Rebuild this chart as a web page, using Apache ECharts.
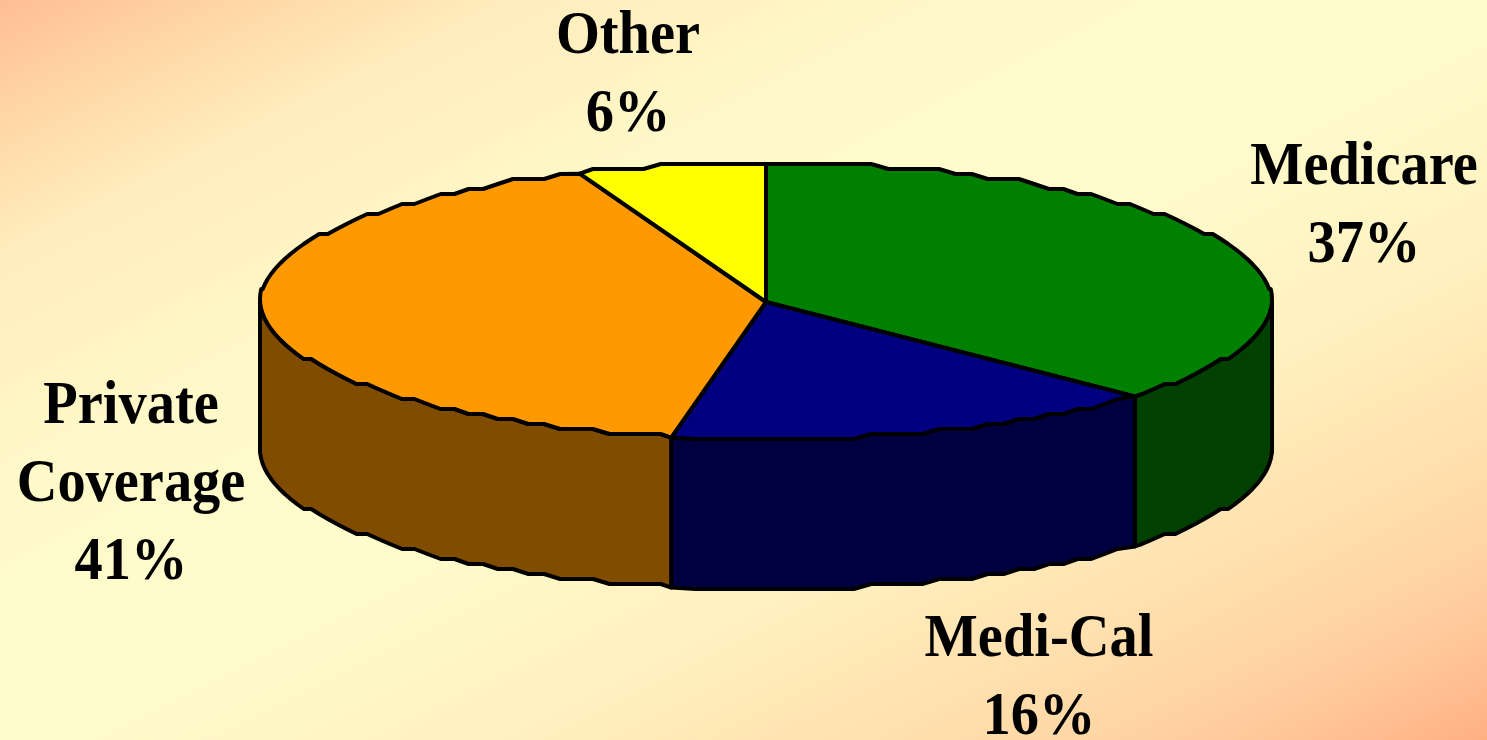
<!DOCTYPE html>
<html style="height: 100%; width: 100%;">
<head>
    <meta charset="utf-8">
    <title>Coverage share</title>
    <script src="https://cdn.jsdelivr.net/npm/echarts@6/dist/echarts.min.js"></script>
    <style>
        body, html { margin: 0; padding: 0; width: 100%; height: 100%; overflow: hidden; }
        #main { width: 1487px; height: 740px; }
    </style>
</head>
<body>
<div id="main"></div>
<script type="text/javascript">
    // chart data
    var names = ['Medicare', 'Medi-Cal', 'Private\nCoverage', 'Other'];
    var shares = [37, 16, 41, 6];

    // colours of the top face and of the rim
    var topColors = ['#008000', '#000080', '#FF9900', '#FFFF00'];
    var sideColors = ['#004000', '#000040', '#804D00', '#808000'];

    // label block centres, same order as names
    var labelX = [1364, 1039, 131, 628];
    var labelY = [207, 679, 485, 76];

    // the tilted disc
    var cx = 766, cy = 302, rx = 506, ry = 138, depth = 150;
    var stepY = 5; // reference outline is stepped, snap heights to this
    var stepDeg = 2;

    var total = shares.reduce(function (a, b) { return a + b; }, 0);

    // angle is clockwise from the top of the disc, in degrees
    function rimPoint(deg, dy, snapped) {
        var a = deg * Math.PI / 180;
        var y = cy - ry * Math.cos(a);
        if (snapped) y = Math.round(y / stepY) * stepY - 1;
        return [cx + rx * Math.sin(a), y + dy];
    }

    function arc(from, to, dy) {
        var pts = [rimPoint(from, dy, false)];
        var d = Math.ceil(from / stepDeg) * stepDeg;
        if (d - from < 1) d += stepDeg;
        for (; d < to - 1; d += stepDeg) {
            pts.push(rimPoint(d, dy, true));
        }
        pts.push(rimPoint(to, dy, false));
        return pts;
    }

    function renderSlice(params, api) {
        var i = params.dataIndex;
        var before = 0;
        for (var k = 0; k < i; k++) before += shares[k];
        var start = before / total * 360;
        var end = (before + api.value(0)) / total * 360;
        var children = [];

        // rim wall, only the part facing the viewer (90 to 270)
        var wallFrom = Math.max(start, 90), wallTo = Math.min(end, 270);
        if (wallFrom < wallTo) {
            var upper = arc(wallFrom, wallTo, 0);
            var lower = arc(wallFrom, wallTo, depth).reverse();
            children.push({
                type: 'polygon',
                shape: { points: upper.concat(lower) },
                style: { fill: sideColors[i], stroke: '#000', lineWidth: 4, lineJoin: 'round' }
            });
        }

        children.push({
            type: 'polygon',
            shape: { points: [[cx, cy]].concat(arc(start, end, 0)) },
            style: { fill: topColors[i], stroke: '#000', lineWidth: 4, lineJoin: 'round' }
        });

        children.push({
            type: 'text',
            x: labelX[i],
            y: labelY[i],
            scaleX: 0.91, // reference type is condensed
            style: {
                text: names[i] + '\n' + api.value(0) + '%',
                align: 'center',
                verticalAlign: 'middle',
                fill: '#000',
                font: 'bold 62px "Liberation Serif"',
                lineHeight: 78
            }
        });

        return { type: 'group', children: children };
    }

    var chart = echarts.init(document.getElementById('main'));

    chart.setOption({
        animation: false,
        // gradient runs corner to corner, cream along the other diagonal
        backgroundColor: {
            type: 'linear',
            global: true,
            x: 448, y: -223, x2: 1039, y2: 963,
            colorStops: [
                { offset: 0, color: '#FFBD93' },
                { offset: 0.084, color: '#FFD7A6' },
                { offset: 0.168, color: '#FFECBC' },
                { offset: 0.337, color: '#FFF9C9' },
                { offset: 0.5, color: '#FFFCCC' },
                { offset: 0.673, color: '#FFF0BF' },
                { offset: 0.736, color: '#FFE8B6' },
                { offset: 0.853, color: '#FFD8A6' },
                { offset: 0.927, color: '#FFC698' },
                { offset: 1, color: '#FFB083' }
            ]
        },
        series: [
            {
                type: 'custom',
                coordinateSystem: 'none',
                data: shares,
                renderItem: renderSlice
            }
        ]
    });
</script>
</body>
</html>
